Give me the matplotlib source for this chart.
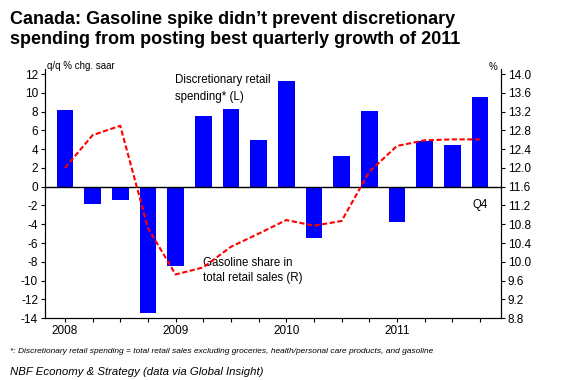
import matplotlib
matplotlib.use("Agg")
import matplotlib.pyplot as plt
import numpy as np

plt.rcParams['font.family'] = ['Liberation Sans', 'DejaVu Sans']
plt.rcParams['axes.unicode_minus'] = False

quarters = ["2008Q1", "2008Q2", "2008Q3", "2008Q4",
            "2009Q1", "2009Q2", "2009Q3", "2009Q4",
            "2010Q1", "2010Q2", "2010Q3", "2010Q4",
            "2011Q1", "2011Q2", "2011Q3", "2011Q4"]
discretionary = [8.2, -1.8, -1.4, -13.5, -8.5, 7.5, 8.3, 5.0,
                 11.3, -5.5, 3.3, 8.1, -3.8, 4.9, 4.4, 9.6]
gasoline_share = [12.0, 12.70, 12.90, 10.72, 9.73, 9.88, 10.32, 10.60,
                  10.89, 10.77, 10.87, 11.92, 12.47, 12.59, 12.61, 12.61]
year_labels = ["2008", "2009", "2010", "2011"]

fig = plt.figure(figsize=(5.71, 3.80), dpi=100)
ax = fig.add_axes([0.0788, 0.163, 0.7986, 0.655])
x = np.arange(len(quarters))

ax.bar(x, discretionary, width=0.6, color='#0000FF', zorder=2)
ax.axhline(0, color='black', lw=1.0, zorder=3)
ax.set_xlim(-0.72, 15.76)
ax.set_ylim(-14, 12.53)
ax.set_yticks(np.arange(-14, 13, 2))
ax.set_xticks(x)
ax.set_xticklabels([year_labels[i // 4] if i % 4 == 0 else "" for i in range(len(quarters))])
ax.tick_params(axis='both', labelsize=8.5, length=3, width=0.8, pad=2)
ax.spines['top'].set_visible(False)

ax2 = ax.twinx()
ax2.plot(x, gasoline_share, color='#FF0000', lw=1.5, ls=(0, (2.5, 1.2)), zorder=4)
ax2.set_ylim(8.8, 14.107)
ax2.set_yticks(np.arange(8.8, 14.01, 0.4))
ax2.set_yticklabels([f"{v:.1f}" for v in np.arange(8.8, 14.01, 0.4)])
ax2.tick_params(axis='y', labelsize=8.5, length=3, width=0.8, pad=2)
ax2.spines['top'].set_visible(False)

fig.text(0.018, 0.972, "Canada: Gasoline spike didn\u2019t prevent discretionary\nspending from posting best quarterly growth of 2011",
         fontsize=13.0, fontweight='bold', va='top', ha='left', linespacing=1.22)
fig.text(0.082, 0.813, "q/q % chg. saar", fontsize=7, va='bottom', ha='left')
fig.text(0.855, 0.810, "%", fontsize=7, va='bottom', ha='left')

ax.text(3.98, 12.0, "Discretionary retail\nspending* (L)", fontsize=8.3, va='top', ha='left', linespacing=1.5)
ax.text(4.98, -7.5, "Gasoline share in\ntotal retail sales (R)", fontsize=8.3, va='top', ha='left', linespacing=1.35)
ax.text(15.0, -1.3, "Q4", fontsize=8.3, va='top', ha='center')

fig.text(0.018, 0.076, "*: Discretionary retail spending = total retail sales excluding groceries, health/personal care products, and gasoline",
         fontsize=6, style='italic', va='center', ha='left')
fig.text(0.018, 0.022, "NBF Economy & Strategy (data via Global Insight)",
         fontsize=8.2, style='italic', va='center', ha='left')

fig.savefig("out.png", dpi=100)
